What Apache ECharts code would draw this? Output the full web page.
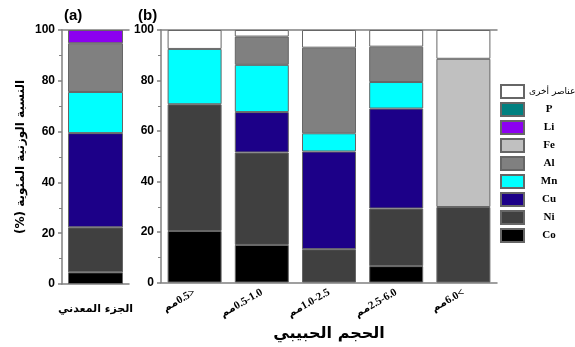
<!DOCTYPE html>
<html>
<head>
<meta charset="utf-8">
<script src="https://cdn.jsdelivr.net/npm/echarts@6/dist/echarts.min.js"></script>
<style>html,body{margin:0;padding:0;background:#fff}#c{width:575px;height:347px}</style>
</head>
<body>
<div id="c"></div>
<script>
// ---- data ----
const categoriesA = ['الجزء المعدني'];
const categoriesB = ['<0.5مم', '0.5-1.0مم', '1.0-2.5مم', '2.5-6.0مم', '>6.0مم'];
const elements = ['Co', 'Ni', 'Cu', 'Mn', 'Al', 'Fe', 'Li', 'P', 'عناصر أخرى'];
const legendOrder = ['عناصر أخرى', 'P', 'Li', 'Fe', 'Al', 'Mn', 'Cu', 'Ni', 'Co'];
// panel (a): one value per element (same order as elements)
const panelA = [4.6, 17.7, 37.1, 16.2, 19.2, 0, 5.2, 0, 0];
// panel (b): one array per element over categoriesB
const coB = [20.4, 14.9, 0, 6.5, 0];
const niB = [50.2, 36.6, 13.2, 22.8, 29.9];
const cuB = [0, 16.0, 38.7, 39.6, 0];
const mnB = [21.9, 18.7, 7.2, 10.5, 0];
const alB = [0, 11.2, 33.9, 14.0, 0];
const feB = [0, 0, 0, 0, 58.7];
const liB = [0, 0, 0, 0, 0];
const pB = [0, 0, 0, 0, 0];
const otherB = [7.5, 2.6, 7.0, 6.6, 11.4];
const yTicks = [0, 20, 40, 60, 80, 100];

const panelB = [coB, niB, cuB, mnB, alB, feB, liB, pB, otherB];
const colors = ['#000000', '#404040', '#1c0088', '#00ffff', '#808080', '#c0c0c0', '#8c00f0', '#008080', '#ffffff'];

const RLE = '\u202B', PDF = '\u202C';
const axisCol = '#808080';

const series = [];
elements.forEach((name, i) => {
  series.push({
    type: 'bar', name, stack: 'a', xAxisIndex: 0, yAxisIndex: 0, barWidth: 55,
    itemStyle: { color: colors[i], borderColor: '#666', borderWidth: 1 },
    data: [panelA[i] === 0 ? null : panelA[i]], animation: false
  });
});
elements.forEach((name, i) => {
  series.push({
    type: 'bar', name, stack: 'b', xAxisIndex: 1, yAxisIndex: 1, barWidth: 54,
    itemStyle: { color: colors[i], borderColor: '#666', borderWidth: 1 },
    data: panelB[i].map(v => v === 0 ? null : v), animation: false
  });
});

const yAxisCommon = {
  type: 'value', min: yTicks[0], max: yTicks[yTicks.length - 1], interval: 20,
  splitLine: { show: false },
  axisLine: { show: true, lineStyle: { color: axisCol, width: 1.5 } },
  axisTick: { show: true, length: 4, lineStyle: { color: axisCol, width: 1.5 } },
  minorTick: { show: true, splitNumber: 2, length: 3, lineStyle: { color: axisCol, width: 1 } },
  axisLabel: { color: '#000', fontFamily: 'Liberation Sans, Arial', fontWeight: 'bold', fontSize: 12, margin: 7 }
};

const option = {
  animation: false,
  title: [
    { text: '(a)', left: 59, top: 3, textStyle: { fontFamily: 'Liberation Sans, Arial', fontWeight: 'bold', fontSize: 15, color: '#000' } },
    { text: '(b)', left: 133, top: 3, textStyle: { fontFamily: 'Liberation Sans, Arial', fontWeight: 'bold', fontSize: 15, color: '#000' } }
  ],
  legend: {
    orient: 'vertical', left: 500, top: 84, padding: 0, itemWidth: 23, itemHeight: 13, itemGap: 3,
    icon: 'rect',
    data: legendOrder, selectedMode: false,
    formatter: n => (/[A-Za-z]/.test(n) ? '{t|' + n + '}' : '{ar|' + RLE + n + PDF + '}'),
    textStyle: {
      rich: {
        t: { width: 40, align: 'center', fontFamily: 'Liberation Serif, DejaVu Serif', fontWeight: 'bold', fontSize: 11, color: '#000' },
        ar: { width: 44, align: 'left', fontFamily: 'DejaVu Sans', fontWeight: 'normal', fontSize: 9, color: '#000' }
      }
    }
  },
  grid: [
    { left: 62, top: 30, width: 67, height: 254 },
    { left: 161, top: 30, width: 336, height: 254 }
  ],
  xAxis: [
    {
      type: 'category', gridIndex: 0, data: categoriesA,
      axisLine: { lineStyle: { color: axisCol, width: 1.5 } },
      axisTick: { alignWithLabel: true, length: 5, lineStyle: { color: axisCol, width: 1.5 } },
      axisLabel: { color: '#000', fontWeight: 'bold', fontSize: 11, fontFamily: 'DejaVu Sans', margin: 20, formatter: v => RLE + v + PDF }
    },
    {
      type: 'category', gridIndex: 1, data: categoriesB,
      axisLine: { lineStyle: { color: axisCol, width: 1.5 } },
      axisTick: { alignWithLabel: true, length: 5, lineStyle: { color: axisCol, width: 1.5 } },
      axisLabel: { color: '#000', fontWeight: 'bold', fontSize: 11, fontFamily: 'Liberation Serif, DejaVu Sans', rotate: 30, margin: 9, formatter: v => RLE + v + PDF },
      name: 'الحجم الحبيبي', nameLocation: 'middle', nameGap: 40,
      nameTextStyle: { color: '#000', fontWeight: 'bold', fontSize: 16, fontFamily: 'DejaVu Sans' }
    },
    {
      type: 'category', gridIndex: 0, position: 'top', data: categoriesA,
      axisLine: { show: true, lineStyle: { color: axisCol, width: 1.5 } },
      axisTick: { show: false }, axisLabel: { show: false }
    },
    {
      type: 'category', gridIndex: 1, position: 'top', data: categoriesB,
      axisLine: { show: true, lineStyle: { color: axisCol, width: 1.5 } },
      axisTick: { show: false }, axisLabel: { show: false }
    }
  ],
  yAxis: [
    Object.assign({}, yAxisCommon, {
      gridIndex: 0,
      name: RLE + 'النسبة الوزنية المئوية (%)' + PDF, nameLocation: 'middle', nameGap: 35,
      nameTextStyle: { color: '#000', fontWeight: 'bold', fontSize: 12, fontFamily: 'DejaVu Sans' }
    }),
    Object.assign({}, yAxisCommon, { gridIndex: 1 })
  ],
  series
};

const chart = echarts.init(document.getElementById('c'), null, { renderer: 'canvas' });
chart.setOption(option);
</script>
</body>
</html>
